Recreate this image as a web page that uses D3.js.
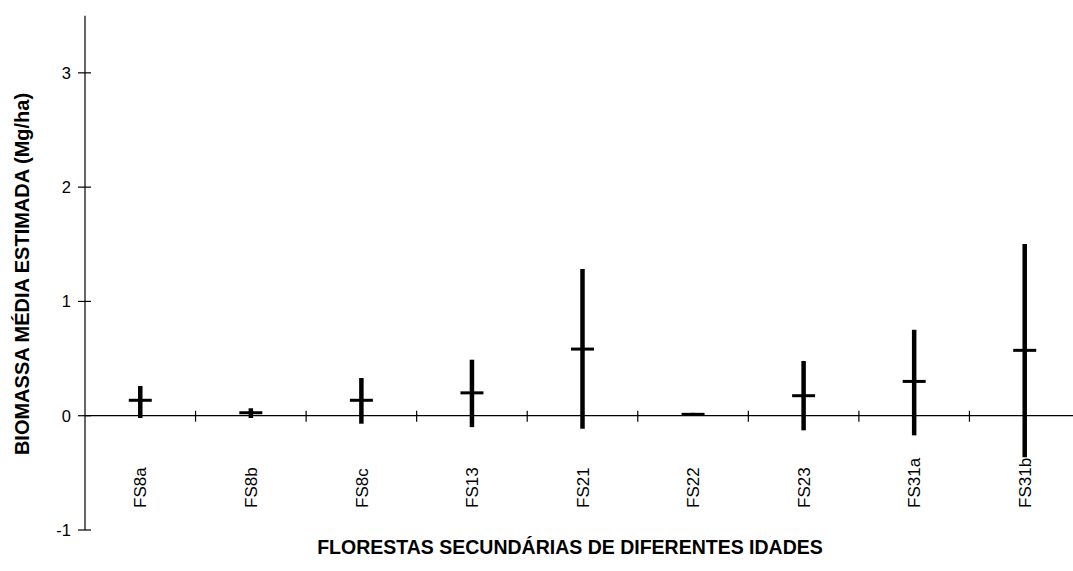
<!DOCTYPE html>
<html lang="en">
<head>
  <meta charset="UTF-8" />
  <title>Biomassa média estimada</title>
  <script src="https://d3js.org/d3.v7.min.js"></script>
  <style>
    body {
      margin: 0;
      background: white;
      font-family: Arial, "Liberation Sans", sans-serif;
    }
    svg { display: block; }
  </style>
</head>
<body>
  <svg id="chart" width="1073" height="571"></svg>

  <script>
    const SITES = ["FS8a", "FS8b", "FS8c", "FS13", "FS21", "FS22", "FS23", "FS31a", "FS31b"];
    const MEAN  = [0.135, 0.026, 0.135, 0.20, 0.583, 0.012, 0.175, 0.30, 0.572];
    const HIGH  = [0.26, 0.065, 0.33, 0.49, 1.283, 0.025, 0.479, 0.752, 1.502];
    const LOW   = [-0.02, -0.02, -0.07, -0.10, -0.114, 0.0, -0.128, -0.172, -0.364];
    const Y_TICKS = [-1, 0, 1, 2, 3];

    const svg = d3.select("#chart");
    const margin = { top: 15.7, left: 85, bottom: 530, right: 1080 };

    const x = d3.scaleBand()
      .domain(SITES)
      .range([margin.left, margin.right])
      .padding(0);

    const y = d3.scaleLinear()
      .domain([-1, 3.5])
      .range([margin.bottom, margin.top]);

    const data = SITES.map((s, i) => ({ site: s, mean: MEAN[i], hi: HIGH[i], lo: LOW[i] }));

    // y axis with cross ticks
    svg.append("line")
      .attr("x1", margin.left).attr("x2", margin.left)
      .attr("y1", y(-1)).attr("y2", y(3.5))
      .attr("stroke", "#000").attr("stroke-width", 1.2);

    svg.selectAll(".ytick")
      .data(Y_TICKS)
      .enter().append("line")
      .attr("x1", margin.left - 7).attr("x2", margin.left + 6)
      .attr("y1", d => y(d)).attr("y2", d => y(d))
      .attr("stroke", "#000").attr("stroke-width", 1.2);

    svg.selectAll(".ylab")
      .data(Y_TICKS)
      .enter().append("text")
      .attr("x", margin.left - 14)
      .attr("y", d => y(d))
      .attr("dy", "0.36em")
      .attr("text-anchor", "end")
      .attr("font-size", "16.5px")
      .text(d => d);

    // x axis at zero
    svg.append("line")
      .attr("x1", margin.left).attr("x2", margin.right)
      .attr("y1", y(0)).attr("y2", y(0))
      .attr("stroke", "#000").attr("stroke-width", 1.2);

    const bounds = SITES.slice(1).map(s => x(s));
    svg.selectAll(".xtick")
      .data(bounds)
      .enter().append("line")
      .attr("x1", d => d).attr("x2", d => d)
      .attr("y1", y(0) - 5).attr("y2", y(0) + 6)
      .attr("stroke", "#000").attr("stroke-width", 1.2);

    svg.selectAll(".xlab")
      .data(SITES)
      .enter().append("text")
      .attr("transform", d => `translate(${x(d) + x.bandwidth() / 2},508) rotate(-90)`)
      .attr("dy", "0.36em")
      .attr("text-anchor", "start")
      .attr("font-size", "17px")
      .text(d => d);

    // error bars
    const cx = d => x(d.site) + x.bandwidth() / 2;
    svg.selectAll(".range")
      .data(data)
      .enter().append("line")
      .attr("x1", cx).attr("x2", cx)
      .attr("y1", d => y(d.hi)).attr("y2", d => y(d.lo))
      .attr("stroke", "#000").attr("stroke-width", 4.5);

    svg.selectAll(".mean")
      .data(data)
      .enter().append("line")
      .attr("x1", d => cx(d) - 11.5).attr("x2", d => cx(d) + 11.5)
      .attr("y1", d => y(d.mean)).attr("y2", d => y(d.mean))
      .attr("stroke", "#000").attr("stroke-width", 3);

    // axis titles
    svg.append("text")
      .attr("transform", "translate(22,274) rotate(-90)")
      .attr("dy", "0.35em")
      .attr("text-anchor", "middle")
      .attr("font-size", "20px")
      .attr("font-weight", "bold")
      .text("BIOMASSA MÉDIA ESTIMADA (Mg/ha)");

    svg.append("text")
      .attr("x", 570)
      .attr("y", 554)
      .attr("text-anchor", "middle")
      .attr("font-size", "19.5px")
      .attr("font-weight", "bold")
      .text("FLORESTAS SECUNDÁRIAS DE DIFERENTES IDADES");
  </script>
</body>
</html>
